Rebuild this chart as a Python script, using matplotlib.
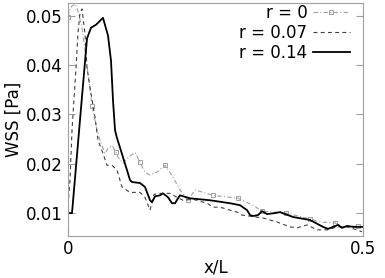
import matplotlib
matplotlib.use("Agg")
import matplotlib.pyplot as plt
import numpy as np

# wall shear stress along the vessel, three radii
x_r0 = [0, 0.0034, 0.0068, 0.0119, 0.0169, 0.0237, 0.0288, 0.0339, 0.0407, 0.0458,
        0.0492, 0.0542, 0.0627, 0.0678, 0.0746, 0.0814, 0.0847, 0.0932, 0.1017, 0.1136,
        0.1220, 0.1305, 0.1390, 0.1508, 0.1644, 0.1780, 0.1898, 0.2034, 0.2153, 0.2458,
        0.2881, 0.3136, 0.3288, 0.3695, 0.4102, 0.4271, 0.4525, 0.4661, 0.4915, 0.4983]
wss_r0 = [0.0498, 0.0514, 0.0520, 0.0524, 0.0510, 0.0476, 0.0429, 0.0383, 0.0318, 0.0288,
          0.0268, 0.0248, 0.0221, 0.0231, 0.0237, 0.0223, 0.0213, 0.0201, 0.0213, 0.0223,
          0.0203, 0.0183, 0.0177, 0.0183, 0.0197, 0.0173, 0.0147, 0.0126, 0.0147, 0.0136,
          0.0130, 0.0116, 0.0104, 0.0100, 0.0088, 0.0082, 0.0080, 0.0072, 0.0074, 0.0072]
marks_r0 = [0, 8, 15, 20, 24, 27, 29, 30, 32, 33, 34, 36, 38]

x_r007 = [0, 0.0034, 0.0068, 0.0136, 0.0169, 0.0203, 0.0237, 0.0288, 0.0322, 0.0373,
          0.0458, 0.0508, 0.0593, 0.0661, 0.0746, 0.0831, 0.0915, 0.1051, 0.1220, 0.1305,
          0.1390, 0.1458, 0.1559, 0.1729, 0.1847, 0.1949, 0.2119, 0.2356, 0.2458, 0.2576,
          0.2746, 0.2864, 0.2949, 0.3305, 0.3542, 0.3763, 0.3881, 0.4051, 0.4220, 0.4390,
          0.4559, 0.4729, 0.4898, 0.4983]
wss_r007 = [0.0116, 0.0167, 0.0268, 0.0395, 0.0464, 0.0506, 0.0514, 0.0464, 0.0395, 0.0355,
            0.0294, 0.0248, 0.0221, 0.0197, 0.0197, 0.0187, 0.0153, 0.0142, 0.0142, 0.0132,
            0.0106, 0.0138, 0.0140, 0.0140, 0.0132, 0.0126, 0.0128, 0.0120, 0.0112, 0.0112,
            0.0106, 0.0102, 0.0096, 0.0090, 0.0082, 0.0072, 0.0070, 0.0076, 0.0066, 0.0066,
            0.0072, 0.0072, 0.0066, 0.0062]

x_r014 = [0, 0.0068, 0.0322, 0.0390, 0.0475, 0.0593, 0.0678, 0.0729, 0.0763, 0.0797,
          0.0831, 0.0881, 0.1000, 0.1051, 0.1085, 0.1220, 0.1305, 0.1390, 0.1424, 0.1475,
          0.1559, 0.1610, 0.1695, 0.1763, 0.1814, 0.1864, 0.1898, 0.2068, 0.2407, 0.2746,
          0.2915, 0.3034, 0.3085, 0.3136, 0.3220, 0.3288, 0.3373, 0.3508, 0.3593, 0.3814,
          0.4102, 0.4322, 0.4407, 0.4492, 0.4576, 0.4644, 0.4729, 0.4831, 0.4983]
wss_r014 = [0.0100, 0.0100, 0.0454, 0.0476, 0.0482, 0.0496, 0.0460, 0.0409, 0.0328, 0.0268,
            0.0252, 0.0233, 0.0187, 0.0167, 0.0163, 0.0161, 0.0153, 0.0126, 0.0122, 0.0134,
            0.0136, 0.0140, 0.0132, 0.0120, 0.0120, 0.0130, 0.0136, 0.0130, 0.0126, 0.0120,
            0.0116, 0.0106, 0.0096, 0.0094, 0.0096, 0.0104, 0.0098, 0.0100, 0.0102, 0.0092,
            0.0086, 0.0072, 0.0068, 0.0072, 0.0076, 0.0070, 0.0074, 0.0072, 0.0072]

labels = ["r = 0", "r = 0.07", "r = 0.14"]
yticks = [0.01, 0.02, 0.03, 0.04, 0.05]
xticks = [0, 0.5]

plt.rcParams["font.family"] = "DejaVu Sans"
plt.rcParams["font.size"] = 12

fig = plt.figure(figsize=(3.85, 2.78), dpi=100)
ax = fig.add_axes([0.1766, 0.151, 0.7664, 0.838])

ax.plot(x_r0, wss_r0, color="#a0a0a0", lw=0.8, ls=(0, (4, 2, 1, 2)),
        marker="s", markersize=3.5, markerfacecolor="none", markeredgewidth=0.7,
        markevery=marks_r0, label=labels[0])
ax.plot(x_r007, wss_r007, color="#404040", lw=0.8, ls=(0, (3.5, 3)), label=labels[1])
ax.plot(x_r014, wss_r014, color="black", lw=1.3, label=labels[2])

ax.set_xlim(0, 0.5)
ax.set_ylim(0.00535, 0.0526)
ax.set_xticks(xticks)
ax.set_xticklabels(["0", "0.5"])
ax.set_yticks(yticks)
ax.set_yticklabels(["0.01", "0.02", "0.03", "0.04", "0.05"])
ax.tick_params(direction="in", length=5, width=0.8, color="#a0a0a0",
               right=True, top=False, pad=4)
ax.tick_params(axis="x", pad=3)
for s in ax.spines.values():
    s.set_color("#a0a0a0")
    s.set_linewidth(0.8)

ax.set_xlabel("x/L", labelpad=0)
ax.set_ylabel("WSS [Pa]", labelpad=2)

leg = ax.legend(loc="upper right", bbox_to_anchor=(0.955, 0.995), frameon=False,
                markerfirst=False, handlelength=2.2, handletextpad=0.35,
                labelspacing=0.12, borderpad=0, borderaxespad=0)
for col in leg._legend_box._children[1]._children:
    col.align = "right"

fig.savefig("out.png", dpi=100)
